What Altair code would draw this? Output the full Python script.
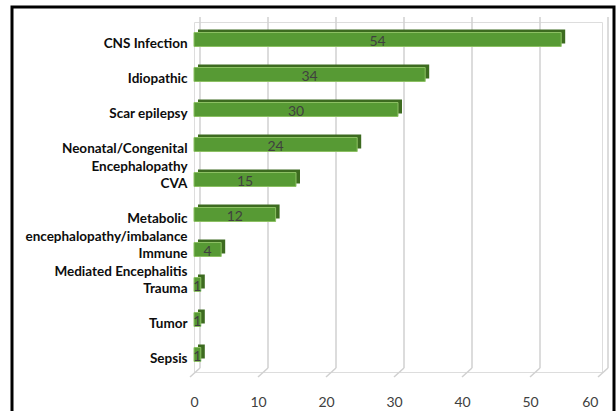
import altair as alt
import pandas as pd

categories = [
    "CNS Infection",
    "Idiopathic",
    "Scar epilepsy",
    "Neonatal/Congenital|Encephalopathy",
    "CVA",
    "Metabolic|encephalopathy/imbalance",
    "Immune|Mediated Encephalitis",
    "Trauma",
    "Tumor",
    "Sepsis",
]
values = [54, 34, 30, 24, 15, 12, 4, 1, 1, 1]
grid_ticks = [0, 10, 20, 30, 40, 50, 60]

df = pd.DataFrame({"cat": categories, "val": values})
grid_df = pd.DataFrame({"g": grid_ticks})
frame_df = pd.DataFrame({"a": [0]})

FONT = "Lato"
W, H = 408, 350

xscale = alt.Scale(domain=[0, 60], nice=False, zero=True)
yscale = alt.Scale(domain=categories)

x_axis = alt.Axis(
    values=grid_ticks, grid=False, domain=False, ticks=False,
    labelFont=FONT, labelFontSize=14, labelColor="#404040",
    labelPadding=23, labelOffset=-4, title=None,
)
y_axis = alt.Axis(
    domain=False, ticks=False, grid=False, title=None,
    labelExpr="split(datum.label, '|')",
    labelFont=FONT, labelFontSize=13.5, labelFontWeight="bold",
    labelColor="#0d0d0d", labelLineHeight=18, labelPadding=7,
    labelOffset=4, labelLimit=300,
)

grid_v = alt.Chart(grid_df).mark_rule(color="#d0d0d0", strokeWidth=1.5, xOffset=6).encode(
    x=alt.X("g:Q", scale=xscale, axis=x_axis),
    y=alt.value(-5), y2=alt.value(346),
)
grid_d = alt.Chart(grid_df).mark_rule(color="#d0d0d0", strokeWidth=1.5, xOffset=6, x2Offset=-4).encode(
    x=alt.X("g:Q", scale=xscale),
    x2="g:Q",
    y=alt.value(346), y2=alt.value(355),
)

base = alt.Chart(df)
back = base.mark_bar(size=14, color="#3d6b20", xOffset=4, x2Offset=4, yOffset=-3, y2Offset=-3).encode(
    x=alt.X("val:Q", scale=xscale),
    y=alt.Y("cat:N", scale=yscale, sort=categories, axis=y_axis),
)
front = base.mark_bar(size=14, color="#579a34", stroke="#8cc063", strokeWidth=1).encode(
    x=alt.X("val:Q", scale=xscale),
    y=alt.Y("cat:N", scale=yscale, sort=categories),
)
labels = base.transform_calculate(mid="datum.val / 2").mark_text(
    font=FONT, fontSize=14, color="#404040", baseline="middle", align="center", dy=2,
).encode(
    x=alt.X("mid:Q", scale=xscale),
    y=alt.Y("cat:N", scale=yscale, sort=categories),
    text="val:Q",
)

frame = alt.Chart(frame_df).mark_rect(fill=None, stroke="black", strokeWidth=3).encode(
    x=alt.value(-182), x2=alt.value(420), y=alt.value(-15), y2=alt.value(400),
)

chart = alt.layer(grid_v, grid_d, back, front, labels, frame).properties(
    width=W, height=H,
    autosize=alt.AutoSizeParams(type="none"),
    padding={"left": 194, "top": 22, "right": 14, "bottom": 39},
).configure_view(stroke=None).configure(background="white")

chart.save("out.html", embed_options={"renderer": "svg", "actions": False})
